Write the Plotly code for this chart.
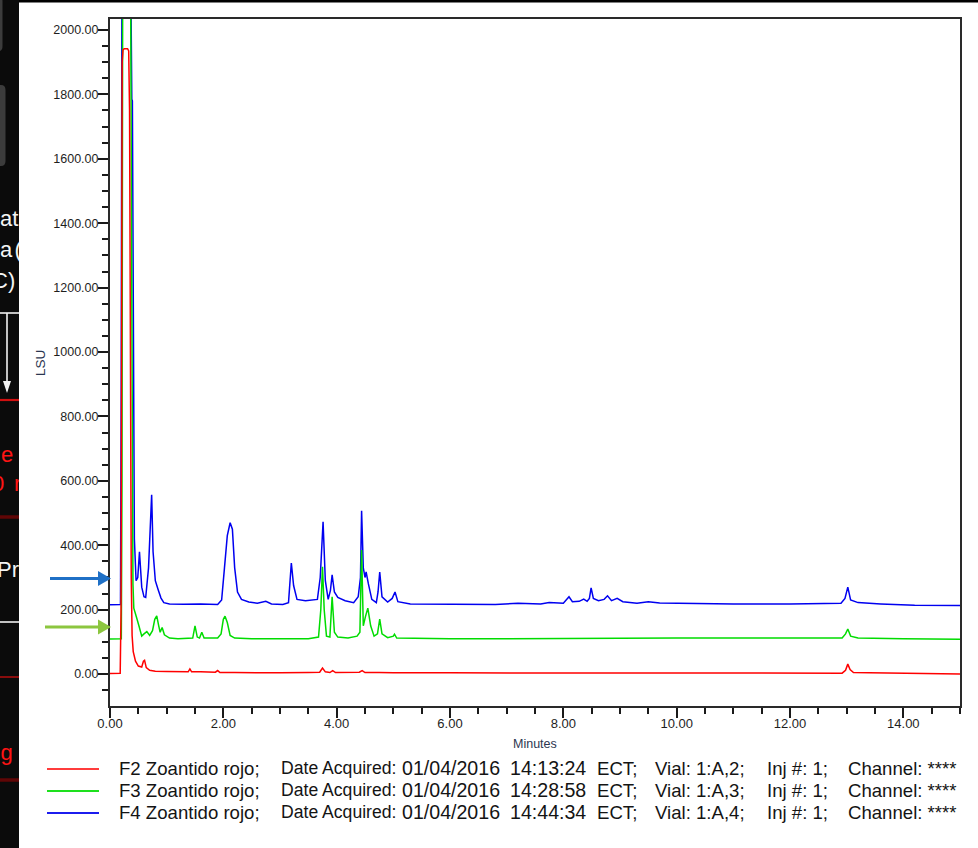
import plotly.graph_objects as go

# ---------------- data ----------------
# F2 Zoantido rojo (red)
f2_time = [
    0.00, 0.10, 0.18, 0.195, 0.205, 0.215, 0.23, 0.25,
    0.31, 0.33, 0.345, 0.36, 0.375, 0.39, 0.41, 0.45,
    0.50, 0.56, 0.59, 0.61, 0.64, 0.70, 0.80, 1.00,
    1.20, 1.38, 1.41, 1.44, 1.60, 1.86, 1.90, 1.94,
    2.20, 2.50, 3.00, 3.50, 3.70, 3.75, 3.80, 3.88,
    3.93, 3.98, 4.20, 4.40, 4.45, 4.50, 4.75, 5.00,
    6.00, 7.00, 8.00, 9.00, 10.00, 11.00, 12.00, 12.92,
    12.98, 13.02, 13.06, 13.12, 13.40, 14.00, 15.00]
f2_lsu = [
    2, 2, 3, 200, 1500, 1900, 1938, 1942,
    1942, 1935, 1750, 900, 300, 120, 70, 40,
    25, 22, 40, 43, 20, 12, 9, 8,
    7, 7, 16, 7, 7, 6, 11, 5,
    5, 4, 4, 5, 6, 19, 7, 5,
    11, 5, 5, 6, 11, 5, 5, 4,
    4, 4, 4, 3, 3, 3, 3, 3,
    12, 31, 14, 5, 4, 3, 0]

# F3 Zoantido rojo (green)
f3_time = [
    0.00, 0.10, 0.20, 0.212, 0.225, 0.36, 0.375, 0.39,
    0.405, 0.42, 0.445, 0.47, 0.51, 0.56, 0.60, 0.65,
    0.70, 0.75, 0.79, 0.825, 0.86, 0.885, 0.92, 0.96,
    1.05, 1.20, 1.46, 1.50, 1.54, 1.58, 1.62, 1.66,
    1.90, 1.96, 2.00, 2.03, 2.07, 2.12, 2.20, 2.50,
    3.00, 3.50, 3.68, 3.72, 3.75, 3.78, 3.82, 3.88,
    3.92, 3.96, 4.02, 4.20, 4.36, 4.41, 4.44, 4.47,
    4.51, 4.55, 4.60, 4.66, 4.72, 4.76, 4.80, 4.90,
    5.00, 5.02, 5.06, 5.50, 6.00, 7.00, 8.00, 9.00,
    10.00, 12.00, 12.92, 12.98, 13.02, 13.07, 13.20, 14.00,
    15.00]
f3_lsu = [
    109, 109, 110, 600, 2300, 2300, 1600, 700,
    280, 205, 193, 175, 150, 118, 125, 132,
    120, 135, 170, 181, 150, 130, 145, 122,
    112, 110, 112, 150, 115, 112, 130, 112,
    112, 125, 170, 180, 160, 120, 112, 110,
    110, 110, 115, 200, 333, 200, 118, 115,
    240, 130, 115, 112, 118, 130, 385, 150,
    180, 205, 150, 118, 125, 171, 125, 113,
    118, 124, 112, 110, 110, 110, 111, 112,
    112, 112, 112, 125, 140, 118, 112, 110,
    108]

# F4 Zoantido rojo (blue)
f4_time = [
    0.00, 0.10, 0.185, 0.198, 0.212, 0.36, 0.378, 0.385,
    0.395, 0.41, 0.43, 0.46, 0.49, 0.52, 0.56, 0.60,
    0.63, 0.68, 0.71, 0.735, 0.76, 0.80, 0.85, 0.90,
    0.95, 1.05, 1.30, 1.60, 1.90, 1.97, 2.02, 2.07,
    2.12, 2.16, 2.20, 2.25, 2.32, 2.45, 2.60, 2.75,
    2.85, 3.05, 3.15, 3.20, 3.24, 3.30, 3.45, 3.55,
    3.66, 3.71, 3.76, 3.80, 3.85, 3.89, 3.92, 3.96,
    4.02, 4.15, 4.30, 4.38, 4.42, 4.44, 4.47, 4.50,
    4.52, 4.56, 4.62, 4.70, 4.73, 4.76, 4.80, 4.90,
    4.98, 5.03, 5.08, 5.30, 6.00, 6.80, 7.20, 7.60,
    7.75, 8.00, 8.10, 8.16, 8.28, 8.36, 8.42, 8.46,
    8.49, 8.53, 8.62, 8.72, 8.78, 8.85, 8.95, 9.05,
    9.30, 9.50, 9.70, 10.20, 11.00, 12.00, 12.90, 12.97,
    13.02, 13.07, 13.20, 13.60, 14.20, 15.00]
f4_lsu = [
    215, 215, 216, 900, 2300, 2300, 1800, 1785,
    1780, 900, 420, 290, 300, 380, 270, 240,
    238, 330, 480, 557, 380, 290, 262, 236,
    222, 218, 217, 218, 216, 230, 330, 430,
    470, 450, 330, 255, 232, 224, 220, 226,
    218, 216, 222, 345, 275, 232, 228, 230,
    232, 300, 473, 290, 232, 260, 308, 255,
    238, 228, 222, 240, 300, 507, 330, 300,
    317, 280, 232, 222, 255, 317, 240, 224,
    235, 255, 225, 218, 216, 216, 220, 218,
    222, 220, 240, 225, 226, 233, 226, 235,
    268, 235, 228, 232, 243, 228, 235, 225,
    220, 225, 221, 219, 218, 218, 220, 235,
    270, 230, 222, 218, 214, 213]

legend_sample = ["F2 Zoantido rojo;", "F3 Zoantido rojo;", "F4 Zoantido rojo;"]
legend_day = ["01/04/2016", "01/04/2016", "01/04/2016"]
legend_clock = ["14:13:24", "14:28:58", "14:44:34"]
legend_zone = ["ECT;", "ECT;", "ECT;"]
legend_vial = ["1:A,2;", "1:A,3;", "1:A,4;"]
legend_inj = ["1;", "1;", "1;"]
legend_channel = ["****", "****", "****"]

x_title = "Minutes"
y_title = "LSU"

# ---------------- geometry (pixels) ----------------
W, H = 978, 848
PL, PR, PT, PB = 110, 960, 19, 706
STRIP = 19
FONT = "Arial, Liberation Sans, sans-serif"


def px(x):
    return x / W


def py(y):
    return 1 - y / H


fig = go.Figure()

# traces: blue first, green over it, red on top
trace_specs = [
    (legend_sample[2], f4_time, f4_lsu, "#0000f0"),
    (legend_sample[1], f3_time, f3_lsu, "#00dc00"),
    (legend_sample[0], f2_time, f2_lsu, "#ff0000"),
]
for name, t, v, col in trace_specs:
    fig.add_trace(go.Scatter(x=t, y=v, mode="lines", name=name,
                             line=dict(color=col, width=1.5),
                             hoverinfo="skip", showlegend=False))

# ---------------- left black strip (cropped slide) ----------------
strip_white = [("at", 0.0, 220), ("a", 0.0, 251), ("(", 14.5, 251),
               ("C)", -8.0, 282), ("Pr", -3.0, 571)]
strip_red = [("e", 1.0, 456), ("0", -8.0, 485), ("r", 14.0, 485), ("g", 0.5, 754)]
for items, col in [(strip_white, "#f4f4f4"), (strip_red, "#ff1414")]:
    fig.add_trace(go.Scatter(
        x=[i[1] for i in items], y=[i[2] for i in items],
        text=[i[0] for i in items], mode="text", textposition="middle right",
        textfont=dict(family=FONT, size=22, color=col),
        xaxis="x2", yaxis="y2", cliponaxis=True, hoverinfo="skip", showlegend=False))

shapes = []
shapes.append(dict(type="rect", xref="x2", yref="y2", x0=0, x1=STRIP, y0=0, y1=H,
                   fillcolor="#0b0b0b", line=dict(width=0), layer="below"))
shapes.append(dict(type="path", xref="x2", yref="y2",
                   path="M -6,-4 L 0,-4 Q 2.5,-4 2.5,2 L 2.5,46 Q 2.5,51 -1,51 L -6,51 Z",
                   fillcolor="#3c3c3c", line=dict(width=0), layer="below"))
shapes.append(dict(type="path", xref="x2", yref="y2",
                   path="M -6,85 L 1,85 Q 5.5,85 5.5,90 L 5.5,161 Q 5.5,166 1,166 L -6,166 Z",
                   fillcolor="#3c3c3c", line=dict(width=0), layer="below"))
for (y, col, w) in [(313, "#f2f2f2", 1.6), (400, "#d01010", 2.2), (517, "#600606", 3.5),
                    (622, "#f2f2f2", 1.6), (677, "#d01010", 1.3), (780, "#600606", 3.5)]:
    shapes.append(dict(type="line", xref="x2", yref="y2", x0=0, x1=STRIP, y0=y, y1=y,
                       line=dict(color=col, width=w)))
shapes.append(dict(type="line", xref="x2", yref="y2", x0=7, x1=7, y0=313, y1=383,
                   line=dict(color="#f2f2f2", width=1.6)))
shapes.append(dict(type="path", xref="x2", yref="y2", path="M 3,381 L 11,381 L 7,393 Z",
                   fillcolor="#f2f2f2", line=dict(width=0)))

# black line along the top of the screenshot
shapes.append(dict(type="rect", xref="paper", yref="paper", x0=px(STRIP), x1=1,
                   y0=py(2.5), y1=1, fillcolor="#000000", line=dict(width=0)))

# blue and green pointer arrows
for (x0, y, col) in [(50, 578.5, "#1f70c6"), (45, 627, "#8cc63f")]:
    shapes.append(dict(type="line", xref="paper", yref="paper", x0=px(x0), x1=px(100),
                       y0=py(y), y1=py(y), line=dict(color=col, width=3)))
    shapes.append(dict(type="path", xref="paper", yref="paper",
                       path=f"M {px(98)},{py(y - 7.5)} L {px(111)},{py(y)} L {px(98)},{py(y + 7.5)} Z",
                       fillcolor=col, line=dict(width=0)))

# legend sample lines
legend_rows = [768, 790, 812]
legend_cols = ["#ff3c3c", "#1ee01e", "#1c1cee"]
for y, col in zip(legend_rows, legend_cols):
    shapes.append(dict(type="line", xref="paper", yref="paper", x0=px(47), x1=px(99),
                       y0=py(y + 1), y1=py(y + 1), line=dict(color=col, width=2)))

annotations = []
for i, y in enumerate(legend_rows):
    cols = [(117, legend_sample[i], 18.6),
            (279, "Date Acquired:", 17.6),
            (400, legend_day[i], 19.6),
            (508, legend_clock[i], 19.6),
            (595, legend_zone[i], 18.6),
            (653, "Vial: " + legend_vial[i], 18.6),
            (765, "Inj #: " + legend_inj[i], 18.6),
            (846, "Channel: " + legend_channel[i], 18.6)]
    for x, txt, fs in cols:
        annotations.append(dict(x=px(x), y=py(y), xref="paper", yref="paper", text=txt,
                                showarrow=False, xanchor="left", yanchor="middle",
                                font=dict(family=FONT, size=fs, color="#141414")))

annotations.append(dict(x=px(40), y=py(363), xref="paper", yref="paper", text=y_title,
                        textangle=-90, showarrow=False, xanchor="center", yanchor="middle",
                        font=dict(family=FONT, size=13.5, color="#2c3650")))
annotations.append(dict(x=px(535), y=py(744), xref="paper", yref="paper", text=x_title,
                        showarrow=False, xanchor="center", yanchor="middle",
                        font=dict(family=FONT, size=12.5, color="#2c3650")))

axis_common = dict(ticks="outside", ticklen=10, tickwidth=1.5, tickcolor="#1a1a1a",
                   showline=True, linecolor="#2a2a2a", linewidth=2, mirror=True,
                   showgrid=False, zeroline=False, tickformat=".2f", automargin=False)

fig.update_layout(
    width=W, height=H, margin=dict(l=0, r=0, t=0, b=0, pad=0, autoexpand=False),
    paper_bgcolor="white", plot_bgcolor="rgba(0,0,0,0)",
    showlegend=False,
    font=dict(family=FONT, color="#1e1e1e"),
    xaxis=dict(domain=[px(PL), px(PR)], range=[0, 15], tick0=0, dtick=2,
               tickfont=dict(size=13, color="#1e1e1e"), ticklabelstandoff=-6,
               minor=dict(dtick=0.5, ticks="outside", ticklen=6, tickwidth=1.5,
                          tickcolor="#1a1a1a", showgrid=False),
               anchor="y", **axis_common),
    yaxis=dict(domain=[py(PB), py(PT)], range=[-99, 2034], tick0=0, dtick=200,
               tickfont=dict(size=12.5, color="#1e1e1e"), ticklabelstandoff=-3,
               minor=dict(dtick=50, ticks="outside", ticklen=6, tickwidth=1.5,
                          tickcolor="#1a1a1a", showgrid=False),
               anchor="x", **axis_common),
    xaxis2=dict(domain=[0, px(STRIP)], range=[0, STRIP], visible=False, anchor="y2",
                fixedrange=True, automargin=False),
    yaxis2=dict(domain=[0, 1], range=[H, 0], visible=False, anchor="x2",
                fixedrange=True, automargin=False),
    shapes=shapes,
    annotations=annotations,
)

fig.write_html("out.html",
               config={"displayModeBar": False},
               post_script="document.body.style.margin='0px';"
                           "document.body.style.overflow='hidden';")
